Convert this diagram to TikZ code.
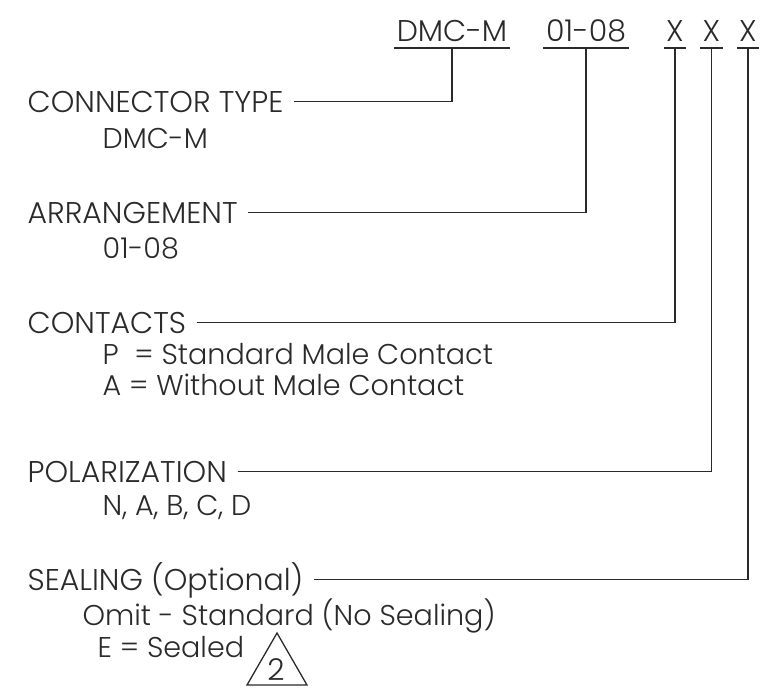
\documentclass[tikz,border=0pt]{standalone}
\usepackage{fontspec}
\setmainfont{Poppins}[UprightFont=* Light]
\definecolor{ink}{HTML}{2A2A2A}
\begin{document}
\begin{tikzpicture}[x=0.5pt, y=-0.5pt, draw=ink, line width=0.65pt,
    every node/.style={font=\fontsize{15}{17}\selectfont, text=ink},
    field/.style={anchor=base west, inner sep=0pt, text height=10.5pt, text depth=0pt},
    choice/.style={anchor=base west, inner sep=0pt, font=\fontsize{14.3}{17}\selectfont},
    code/.style={anchor=south, inner xsep=1pt, inner ysep=3pt, text height=10.5pt, text depth=0pt}]
  \useasboundingbox (0,0) rectangle (780,698);

  % Part number
  \node[code] (dmc) at (452,48) {DMC-M};
  \node[code] (arr) at (586,48) {01-08};
  \node[code] (xa) at (675,48) {X};
  \node[code] (xb) at (711.5,48) {X};
  \node[code] (xc) at (748,48) {X};
  \foreach \n in {dmc, arr, xa, xb, xc}
    \draw (\n.south west) -- (\n.south east);

  % Fields
  \node[field] (ctype) at (27,112) {CONNECTOR TYPE};
  \node[choice] (ctypeval) at (102,148) {DMC-M};
  \node[field] (arrange) at (27,223) {ARRANGEMENT};
  \node[choice] (arrangeval) at (102,258) {01-08};
  \node[field] (contacts) at (27,333) {CONTACTS};
  \node[choice] (contactp) at (102,364) {P\ \ = Standard Male Contact};
  \node[choice] (contacta) at (102,395) {A = Without Male Contact};
  \node[field] (polar) at (27,482) {POLARIZATION};
  \node[choice] (polarval) at (102,515) {N, A, B, C, D};
  \node[field] (seal) at (27,590) {SEALING (Optional)};
  \node[choice] (sealomit) at (82,625) {Omit - Standard (No Sealing)};
  \node[choice] (sealed) at (97,657) {E = Sealed};

  % Leaders
  \draw ([xshift=5pt]ctype.east) -| (dmc.south);
  \draw ([xshift=5pt]arrange.east) -| (arr.south);
  \draw ([xshift=5pt]contacts.east) -| (xa.south);
  \draw ([xshift=5pt]polar.east) -| (xb.south);
  \draw ([xshift=5pt]seal.east) -| (xc.south);

  % Note flag
  \draw (247,685) -- (307,685) -- (277,633) -- cycle;
  \node (note) at (276,670) {2};
\end{tikzpicture}
\end{document}
